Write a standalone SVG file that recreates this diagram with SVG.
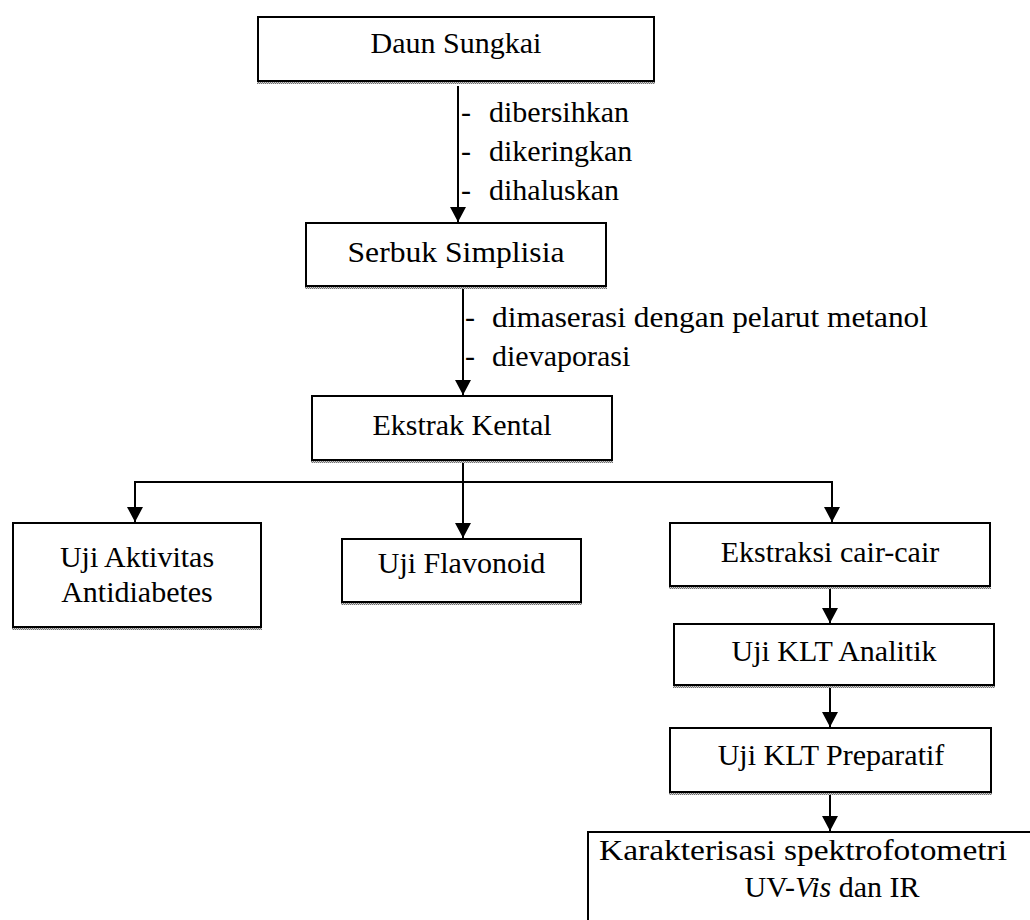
<svg xmlns="http://www.w3.org/2000/svg" width="1030" height="920" viewBox="0 0 1030 920">
<style>
.box{fill:#fff;stroke:#000;stroke-width:2}
.sh{fill:url(#dots)}
text{font-family:'Liberation Serif',serif;font-size:30px;fill:#000}
.t{text-anchor:middle}
.c{fill:none;stroke:#000;stroke-width:2}
.a{fill:none;stroke:#000;stroke-width:2;marker-end:url(#arr)}
</style>
<defs>
<pattern id="dots" width="2" height="2" patternUnits="userSpaceOnUse">
<rect width="2" height="2" fill="#d0d0d0"/>
<rect width="1" height="1" fill="#707070"/>
<rect x="1" y="1" width="1" height="1" fill="#707070"/>
</pattern>
<marker id="arr" markerUnits="userSpaceOnUse" markerWidth="15" markerHeight="16" refX="15" refY="8" orient="auto">
<path d="M0,0 L15,8 L0,16 Z" fill="#000"/>
</marker>
</defs>
<g id="connectors">
<line class="a" x1="458" y1="86" x2="458" y2="222"/>
<line class="a" x1="463" y1="288" x2="463" y2="395"/>
<line class="c" x1="463" y1="462" x2="463" y2="482"/>
<polyline class="c" points="135,482 832,482"/>
<line class="a" x1="135" y1="481" x2="135" y2="522"/>
<line class="a" x1="463" y1="482" x2="463" y2="538"/>
<line class="a" x1="832" y1="481" x2="832" y2="522"/>
<line class="a" x1="830" y1="587" x2="830" y2="623"/>
<line class="a" x1="830" y1="687" x2="830" y2="727"/>
<line class="a" x1="830" y1="794" x2="830" y2="831"/>
</g>
<g id="labels">
<text x="461" y="122">-</text><text x="489" y="122">dibersihkan</text>
<text x="461" y="161">-</text><text x="489" y="161">dikeringkan</text>
<text x="461" y="200">-</text><text x="489" y="200">dihaluskan</text>
<text x="465" y="327">-</text><text x="492" y="327" textLength="436" lengthAdjust="spacingAndGlyphs">dimaserasi dengan pelarut metanol</text>
<text x="465" y="366">-</text><text x="492" y="366">dievaporasi</text>
</g>
<g id="n1">
<rect class="sh" x="257" y="81" width="398" height="3"/>
<rect class="box" x="258" y="17" width="396" height="64"/>
<text class="t" x="456" y="53">Daun Sungkai</text>
</g>
<g id="n2">
<rect class="sh" x="305" y="286" width="302" height="3"/>
<rect class="box" x="306" y="223" width="300" height="63"/>
<text class="t" x="456" y="262" textLength="217" lengthAdjust="spacingAndGlyphs">Serbuk Simplisia</text>
</g>
<g id="n3">
<rect class="sh" x="311" y="460" width="302" height="3"/>
<rect class="box" x="312" y="396" width="300" height="64"/>
<text class="t" x="462" y="435">Ekstrak Kental</text>
</g>
<g id="n4">
<rect class="sh" x="12" y="627" width="250" height="3"/>
<rect class="box" x="13" y="523" width="248" height="104"/>
<text class="t" x="137" y="567">Uji Aktivitas</text>
<text class="t" x="137" y="602">Antidiabetes</text>
</g>
<g id="n5">
<rect class="sh" x="341" y="602" width="241" height="3"/>
<rect class="box" x="342" y="539" width="239" height="63"/>
<text class="t" x="461.5" y="573">Uji Flavonoid</text>
</g>
<g id="n6">
<rect class="sh" x="669" y="586" width="322" height="3"/>
<rect class="box" x="670" y="523" width="320" height="63"/>
<text class="t" x="830" y="562">Ekstraksi cair-cair</text>
</g>
<g id="n7">
<rect class="sh" x="673" y="685" width="322" height="3"/>
<rect class="box" x="674" y="624" width="320" height="61"/>
<text class="t" x="834" y="661">Uji KLT Analitik</text>
</g>
<g id="n8">
<rect class="sh" x="669" y="792" width="323" height="3"/>
<rect class="box" x="670" y="728" width="321" height="64"/>
<text class="t" x="831" y="765">Uji KLT Preparatif</text>
</g>
<g id="n9">
<rect class="box" x="588" y="832" width="500" height="120"/>
<text class="t" x="803" y="860" textLength="408" lengthAdjust="spacingAndGlyphs">Karakterisasi spektrofotometri</text>
<text class="t" x="832" y="897">UV-<tspan font-style="italic">Vis</tspan> dan IR</text>
</g>
</svg>
